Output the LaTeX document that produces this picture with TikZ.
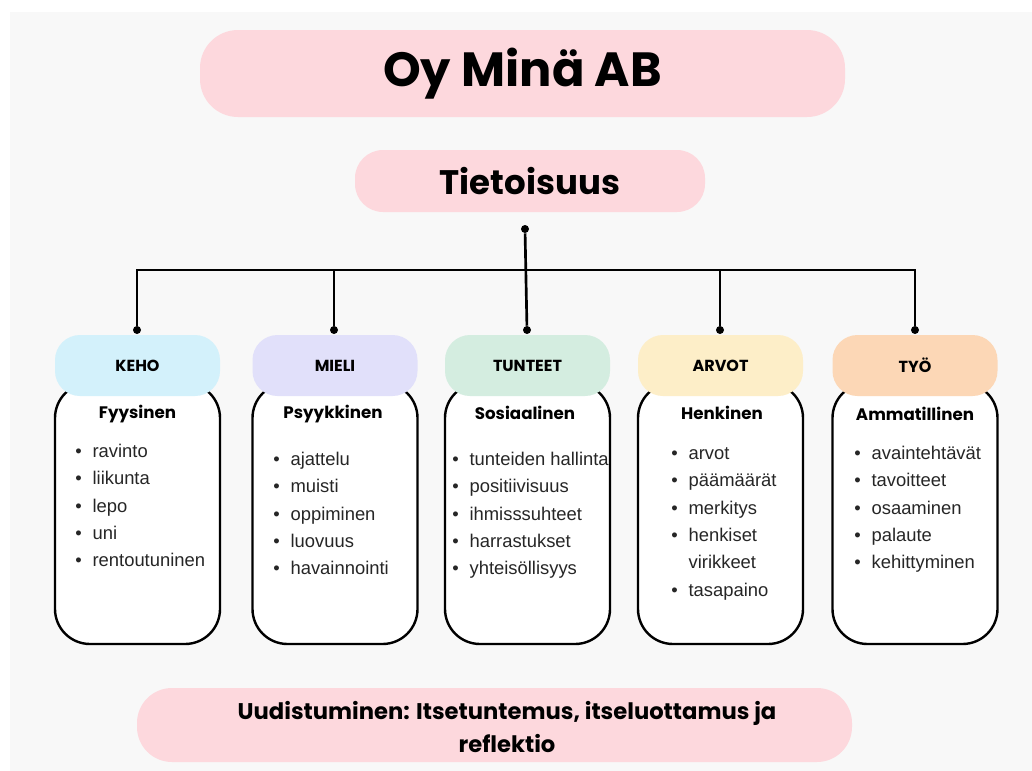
\documentclass[tikz,border=0pt]{standalone}
\usepackage{fontspec}
\setmainfont{Liberation Sans}
\newfontfamily\headfont{Poppins}
\definecolor{bggray}{RGB}{248,248,248}
\definecolor{pinkpill}{RGB}{253,216,221}
\definecolor{kehoblue}{RGB}{211,241,251}
\definecolor{mielilila}{RGB}{225,224,250}
\definecolor{tunteetmint}{RGB}{212,237,224}
\definecolor{arvotyellow}{RGB}{253,238,200}
\definecolor{tyopeach}{RGB}{252,215,182}
\tikzset{
  pill/.style={rectangle,rounded corners=18.75pt,minimum width=123.75pt,minimum height=45.75pt,inner sep=0pt,font=\headfont\bfseries\fontsize{12}{14}\selectfont},
  card/.style={rectangle,rounded corners=26.25pt,draw=black,line width=1.8pt,fill=white,minimum width=123.75pt,minimum height=195.75pt},
  sub/.style={inner sep=0pt,font=\headfont\bfseries\fontsize{12.5}{15}\selectfont},
  items/.style={anchor=north west,align=left,inner sep=0pt,text=black!85,font=\fontsize{13.8}{20.5}\selectfont},
  dot/.style={circle,fill=black,inner sep=0pt,minimum size=6pt},
  wire/.style={line width=2pt}
}
\newcommand\li{\strut\makebox[13pt][l]{\textbullet}}
\newcommand\lic{\strut\hspace*{13pt}}

\begin{document}
\begin{tikzpicture}[x=0.75pt,y=-0.75pt]
\useasboundingbox (0,0) rectangle (1032,771);
\fill[bggray] (10,12) rectangle (1032,771);
%
\node (title) [rectangle,rounded corners=28.5pt,fill=pinkpill,minimum width=483.75pt,minimum height=65.25pt,font=\headfont\bfseries\fontsize{36}{40}\selectfont] at (522.5,73.5) {Oy Minä AB};
\node (aware) [rectangle,rounded corners=21pt,fill=pinkpill,minimum width=262.5pt,minimum height=46.5pt,font=\headfont\bfseries\fontsize{25.5}{30}\selectfont] at (530,181) {Tietoisuus};
%
\node (kehocard) [card] at (137.5,513.5) {};
\node (mielicard) [card] at (335,513.5) {};
\node (tunteetcard) [card] at (527.5,513.5) {};
\node (arvotcard) [card] at (720.5,513.5) {};
\node (tyocard) [card] at (915,513.5) {};
%
\node (keho) [pill,fill=kehoblue] at (137.5,365.5) {KEHO};
\node (mieli) [pill,fill=mielilila] at (335,365.5) {MIELI};
\node (tunteet) [pill,fill=tunteetmint] at (527.5,365.5) {TUNTEET};
\node (arvot) [pill,fill=arvotyellow] at (720.5,365.5) {ARVOT};
\node (tyo) [pill,fill=tyopeach] at (915,365.5) {TYÖ};
%
\node (kehosub) [sub] at (137.5,414) {Fyysinen};
\node (mielisub) [sub] at (333,414) {Psyykkinen};
\node (tunteetsub) [sub] at (525,413) {Sosiaalinen};
\node (arvotsub) [sub] at (722,413) {Henkinen};
\node (tyosub) [sub] at (915,414) {Ammatillinen};
%
\node (kehol) [items] at (75,438) {\li ravinto\\ \li liikunta\\ \li lepo\\ \li uni\\ \li rentoutuninen};
\node (mielil) [items] at (273,446) {\li ajattelu\\ \li muisti\\ \li oppiminen\\ \li luovuus\\ \li havainnointi};
\node (tunteetl) [items] at (452,446) {\li tunteiden hallinta\\ \li positiivisuus\\ \li ihmisssuhteet\\ \li harrastukset\\ \li yhteisöllisyys};
\node (arvotl) [items] at (671,440) {\li arvot\\ \li päämäärät\\ \li merkitys\\ \li henkiset\\ \lic virikkeet\\ \li tasapaino};
\node (tyol) [items] at (854,440) {\li avaintehtävät\\ \li tavoitteet\\ \li osaaminen\\ \li palaute\\ \li kehittyminen};
%
\node (renew) [rectangle,rounded corners=26.25pt,fill=pinkpill,minimum width=536.25pt,minimum height=55.5pt] at (494.5,725) {};
\node (renewtxt) [align=center,font=\headfont\bfseries\fontsize{17}{24.75}\selectfont] at (507,727) {Uudistuminen: Itsetuntemus, itseluottamus ja\\reflektio};
%
\coordinate (bar) at (525,270);
\node (top) [dot] at (525,229) {};
\node (d1) [dot] at (137,330) {};
\node (d2) [dot] at (334,330) {};
\node (d3) [dot] at (527,330) {};
\node (d4) [dot] at (720,330) {};
\node (d5) [dot] at (915,330) {};
\draw[wire] (top) -- (d3);
\draw[wire] (d1) -- (d1 |- bar) -- (d5 |- bar) -- (d5);
\draw[wire] (d2) -- (d2 |- bar);
\draw[wire] (d4) -- (d4 |- bar);
\end{tikzpicture}
\end{document}
